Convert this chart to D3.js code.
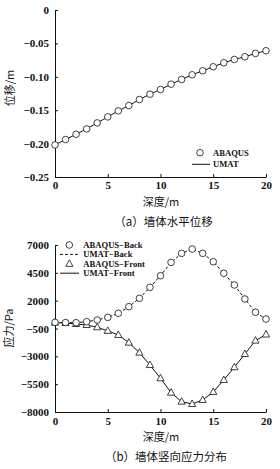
<!DOCTYPE html>
<html><head><meta charset="utf-8">
<script src="https://cdn.jsdelivr.net/npm/d3@7"></script>
<style>
html,body{margin:0;padding:0;background:#fff;}
svg{display:block;}
.tick text{font-family:"Liberation Serif","Times New Roman",serif;font-weight:bold;font-size:11px;fill:#111;}
.cjk{font-family:"Noto Sans CJK SC",sans-serif;fill:#111;}
.leg{font-family:"Liberation Serif","Times New Roman",serif;font-weight:bold;font-size:8.6px;fill:#111;}
</style></head>
<body>
<script>
// ---- data ----
const depth = d3.range(0, 21, 1);
const dispABAQUS = [-0.202,-0.194,-0.186,-0.178,-0.169,-0.160,-0.151,-0.143,-0.134,-0.126,-0.119,-0.111,-0.104,-0.097,-0.091,-0.085,-0.079,-0.074,-0.070,-0.065,-0.061];
const dispUMAT   = [-0.202,-0.194,-0.186,-0.178,-0.169,-0.160,-0.151,-0.143,-0.134,-0.126,-0.119,-0.111,-0.104,-0.097,-0.091,-0.085,-0.079,-0.074,-0.070,-0.065,-0.061];
const backABAQUS = [50,30,20,110,265,500,870,1460,2210,3200,4240,5440,6250,6640,6250,5500,4460,3410,2150,960,350];
const backUMAT   = [50,30,20,110,265,500,870,1460,2210,3200,4240,5440,6250,6640,6250,5500,4460,3410,2150,960,350];
const frontABAQUS = [30,-5,-95,-185,-390,-710,-1080,-1770,-2670,-3780,-4970,-6260,-7070,-7280,-6920,-6200,-5120,-3980,-2790,-1590,-1040];
const frontUMAT   = [30,-5,-95,-185,-390,-710,-1080,-1770,-2670,-3780,-4970,-6260,-7070,-7280,-6920,-6200,-5120,-3980,-2790,-1590,-1040];
const xTicks = [0,5,10,15,20];
const yTicksA = [0,-0.05,-0.10,-0.15,-0.20,-0.25];
const yTickLabelsA = ["0","−0.05","−0.10","−0.15","−0.20","−0.25"];
const yTicksB = [7000,4500,2000,-500,-3000,-5500,-8000];
const yTickLabelsB = ["7000","4500","2000","−500","−3000","−5500","−8000"];
const xLabel = "深度/m";
const yLabelA = "位移/m";
const yLabelB = "应力/Pa";
const captionA = "（a）墙体水平位移";
const captionB = "（b）墙体竖向应力分布";

const W = 280, H = 469;
const svg = d3.select("body").append("svg").attr("width", W).attr("height", H);
const ink = "#111";

function drawAxes(x, y, yTicks, yLabels, xPad) {
  const g = svg.append("g");
  g.append("g").attr("transform", `translate(0,${y.range()[0]})`)
    .call(d3.axisBottom(x).tickValues(xTicks).tickFormat(d3.format("d")).tickSizeInner(-3).tickSizeOuter(0).tickPadding(xPad));
  g.append("g").attr("transform", `translate(${x.range()[0]},0)`)
    .call(d3.axisLeft(y).tickValues(yTicks).tickFormat((d,i)=>yLabels[i]).tickSizeInner(-3).tickSizeOuter(0).tickPadding(6));
  g.selectAll(".domain, .tick line").attr("stroke", ink).attr("stroke-width", 1);
}

function tri(cx, cy, r) {
  return `M${cx},${cy - r*1.1}L${cx + r},${cy + r*0.7}L${cx - r},${cy + r*0.7}Z`;
}

// ---- chart (a) ----
const xA = d3.scaleLinear().domain([0,20]).range([55,266]);
const yA = d3.scaleLinear().domain([-0.25,0]).range([177,10]);
drawAxes(xA, yA, yTicksA, yTickLabelsA, 4);

svg.append("path").datum(depth.map((d,i)=>[d,dispUMAT[i]]))
  .attr("d", d3.line().x(d=>xA(d[0])).y(d=>yA(d[1])))
  .attr("fill","none").attr("stroke",ink).attr("stroke-width",1);
svg.append("g").selectAll("circle").data(depth.map((d,i)=>[d,dispABAQUS[i]])).join("circle")
  .attr("cx",d=>xA(d[0])).attr("cy",d=>yA(d[1])).attr("r",3.3)
  .attr("fill","#fff").attr("stroke",ink).attr("stroke-width",0.8);

// legend (a)
svg.append("circle").attr("cx",200).attr("cy",152.7).attr("r",3.3).attr("fill","#fff").attr("stroke",ink).attr("stroke-width",0.8);
svg.append("text").attr("class","leg").attr("x",213).attr("y",152.7).attr("dy","0.35em").text("ABAQUS");
svg.append("line").attr("x1",192).attr("x2",210).attr("y1",164.3).attr("y2",164.3).attr("stroke",ink).attr("stroke-width",1);
svg.append("text").attr("class","leg").attr("x",213).attr("y",164.3).attr("dy","0.35em").text("UMAT");

svg.append("text").attr("class","cjk").attr("font-size",11).attr("text-anchor","middle")
  .attr("x",161).attr("y",202).attr("dy","0.35em").text(xLabel);
svg.append("text").attr("class","cjk").attr("font-size",11).attr("text-anchor","middle")
  .attr("transform","translate(10,88) rotate(-90)").attr("dy","0.35em").text(yLabelA);
svg.append("text").attr("class","cjk").attr("font-size",11.5).attr("text-anchor","middle")
  .attr("x",163.5).attr("y",222).attr("dy","0.35em").text(captionA);

// ---- chart (b) ----
const xB = d3.scaleLinear().domain([0,20]).range([55,266]);
const yB = d3.scaleLinear().domain([-8000,7000]).range([412,245]);
drawAxes(xB, yB, yTicksB, yTickLabelsB, 5);

svg.append("path").datum(depth.map((d,i)=>[d,backUMAT[i]]))
  .attr("d", d3.line().x(d=>xB(d[0])).y(d=>yB(d[1])))
  .attr("fill","none").attr("stroke",ink).attr("stroke-width",1).attr("stroke-dasharray","3,2");
svg.append("path").datum(depth.map((d,i)=>[d,frontUMAT[i]]))
  .attr("d", d3.line().x(d=>xB(d[0])).y(d=>yB(d[1])))
  .attr("fill","none").attr("stroke",ink).attr("stroke-width",1);
svg.append("g").selectAll("path").data(depth.map((d,i)=>[d,frontABAQUS[i]])).join("path")
  .attr("d",d=>tri(xB(d[0]), yB(d[1]), 3.6))
  .attr("fill","#fff").attr("stroke",ink).attr("stroke-width",0.8);
svg.append("g").selectAll("circle").data(depth.map((d,i)=>[d,backABAQUS[i]])).join("circle")
  .attr("cx",d=>xB(d[0])).attr("cy",d=>yB(d[1])).attr("r",3.3)
  .attr("fill","#fff").attr("stroke",ink).attr("stroke-width",0.8);

// legend (b)
const lx = 83.3;
const rows = [245, 254.4, 263.8, 273.2];
svg.append("circle").attr("cx",69.3).attr("cy",rows[0]).attr("r",3.3).attr("fill","#fff").attr("stroke",ink).attr("stroke-width",0.8);
svg.append("text").attr("class","leg").attr("x",lx).attr("y",rows[0]).attr("dy","0.35em").text("ABAQUS−Back");
svg.append("line").attr("x1",60).attr("x2",79).attr("y1",rows[1]).attr("y2",rows[1]).attr("stroke",ink).attr("stroke-width",1).attr("stroke-dasharray","3,2");
svg.append("text").attr("class","leg").attr("x",lx).attr("y",rows[1]).attr("dy","0.35em").text("UMAT−Back");
svg.append("path").attr("d",tri(69.3,rows[2],3.6)).attr("fill","#fff").attr("stroke",ink).attr("stroke-width",0.8);
svg.append("text").attr("class","leg").attr("x",lx).attr("y",rows[2]).attr("dy","0.35em").text("ABAQUS−Front");
svg.append("line").attr("x1",60).attr("x2",79).attr("y1",rows[3]).attr("y2",rows[3]).attr("stroke",ink).attr("stroke-width",1);
svg.append("text").attr("class","leg").attr("x",lx).attr("y",rows[3]).attr("dy","0.35em").text("UMAT−Front");

svg.append("text").attr("class","cjk").attr("font-size",11).attr("text-anchor","middle")
  .attr("x",161).attr("y",437).attr("dy","0.35em").text(xLabel);
svg.append("text").attr("class","cjk").attr("font-size",11).attr("text-anchor","middle")
  .attr("transform","translate(9,328) rotate(-90)").attr("dy","0.35em").text(yLabelB);
svg.append("text").attr("class","cjk").attr("font-size",11.5).attr("text-anchor","middle")
  .attr("x",166).attr("y",457).attr("dy","0.35em").text(captionB);
</script>
</body></html>
